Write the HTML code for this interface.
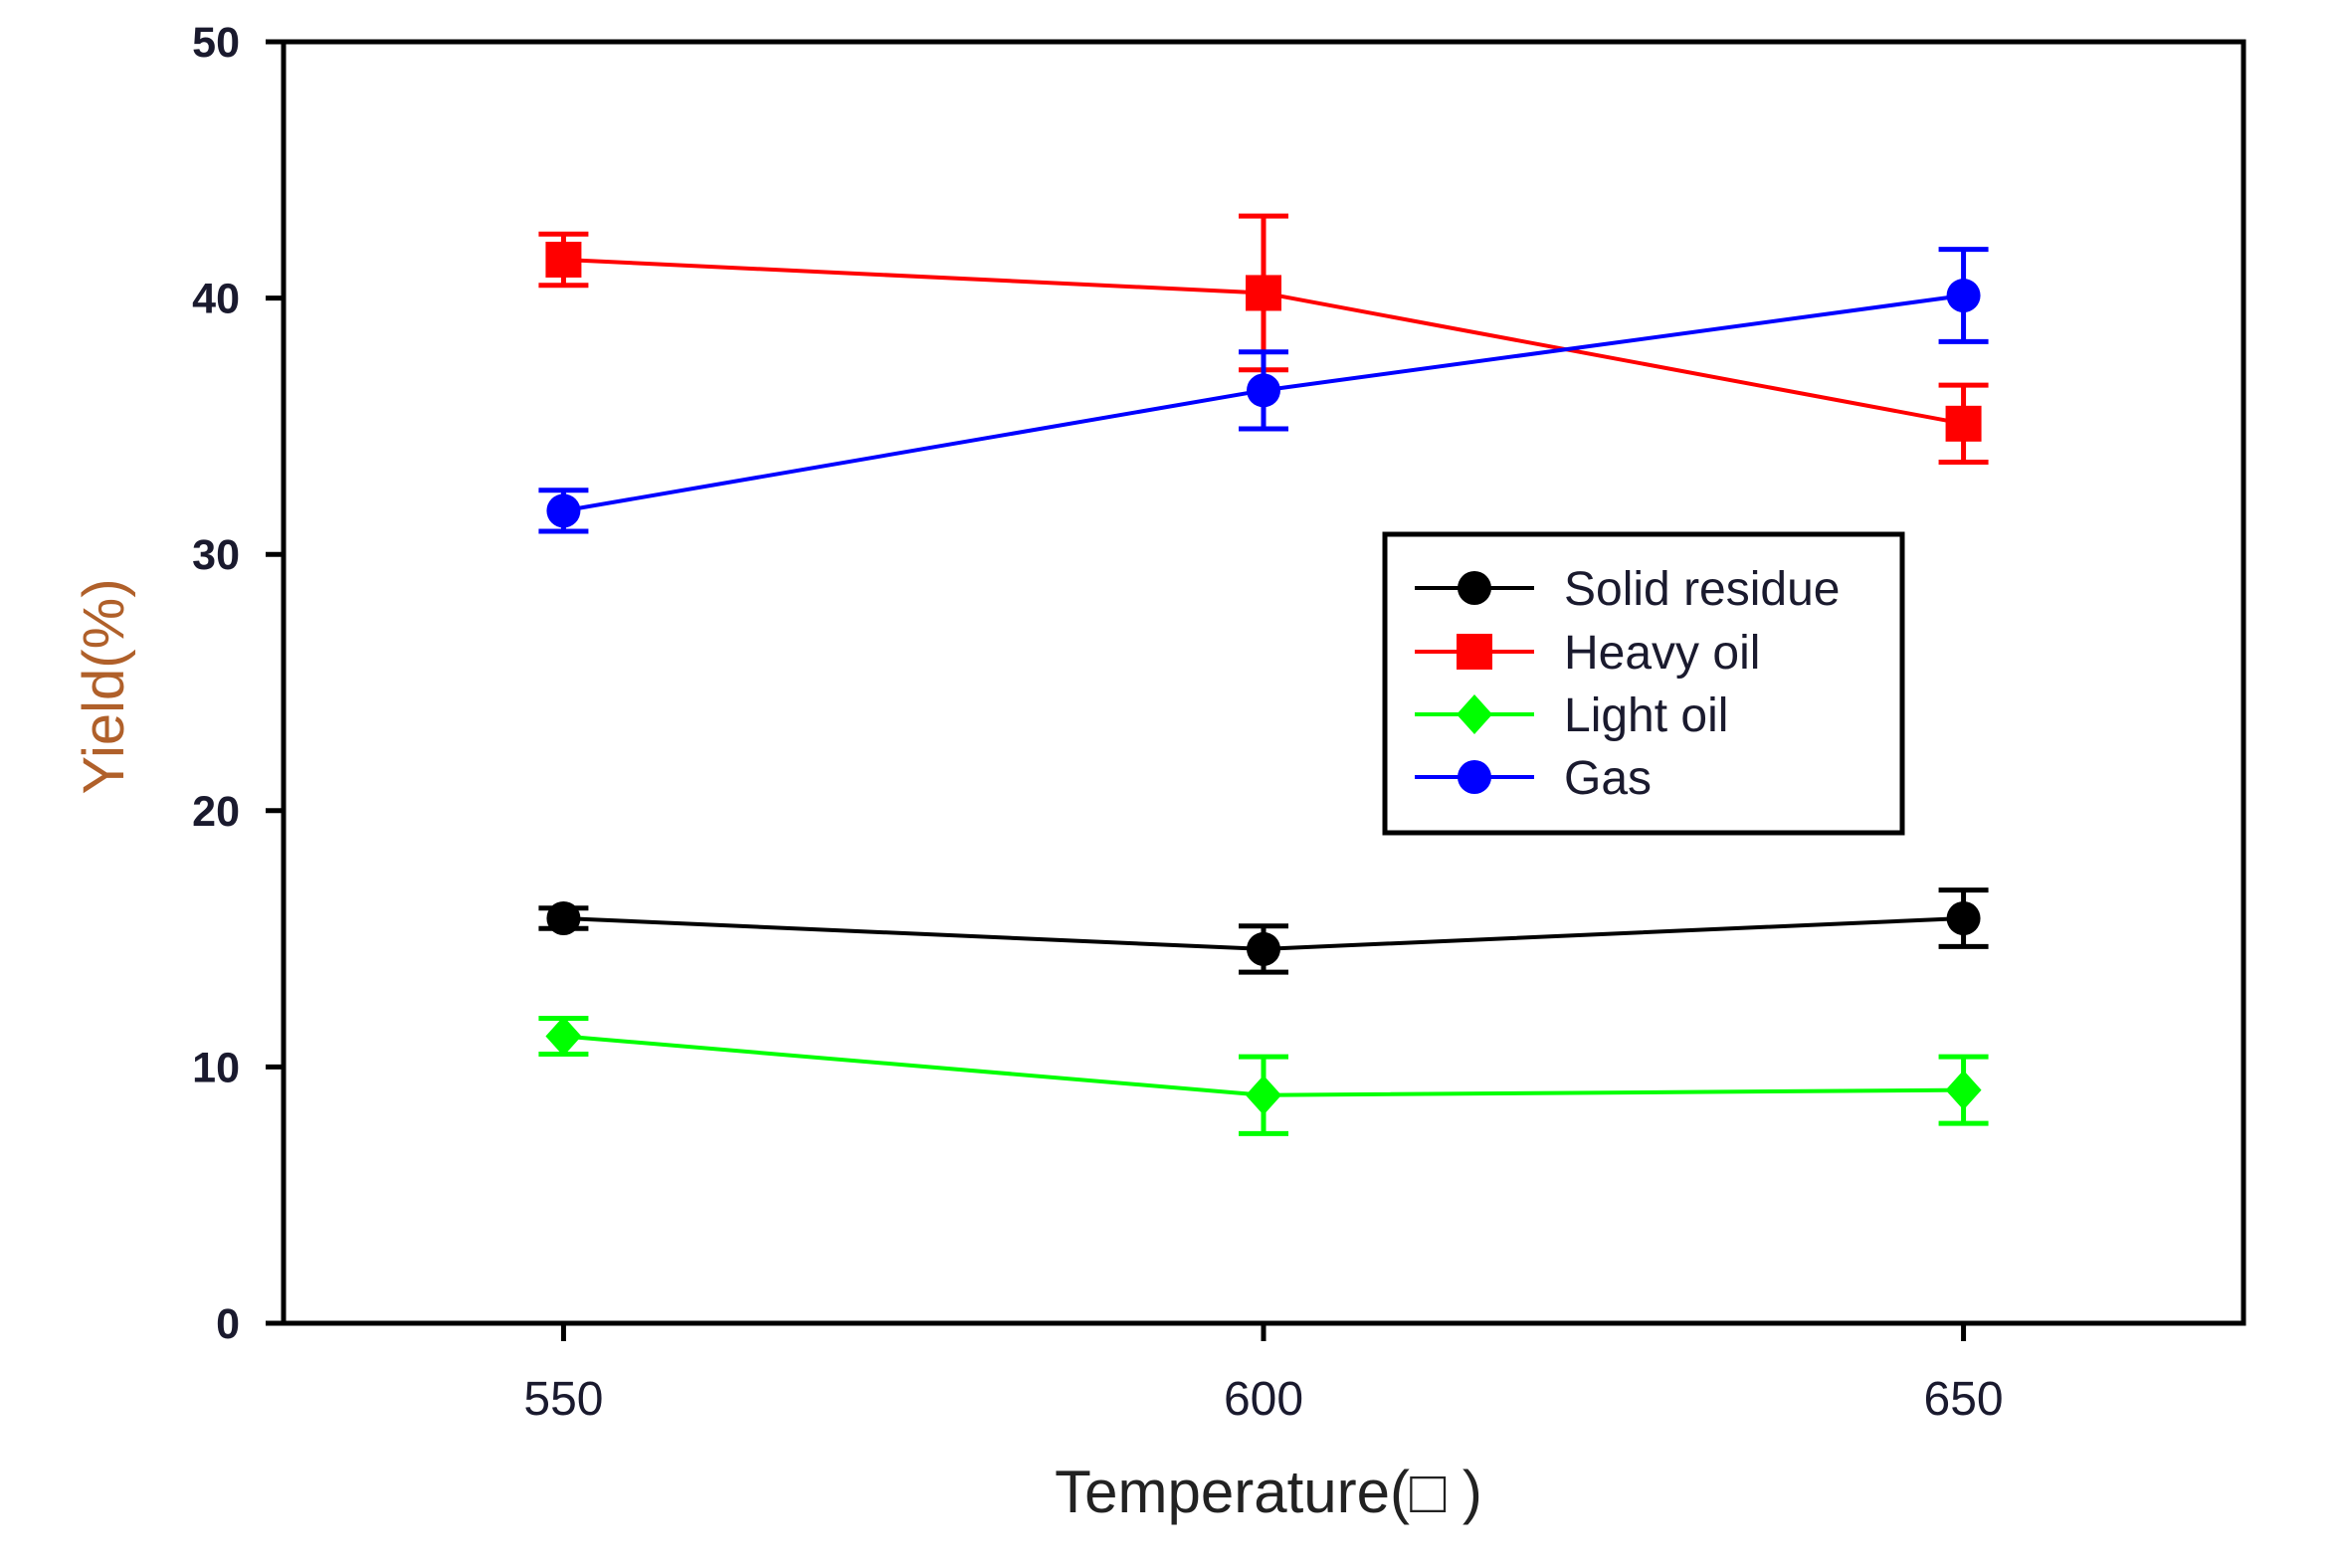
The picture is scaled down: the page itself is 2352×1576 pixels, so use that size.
<!DOCTYPE html>
<html><head><meta charset="utf-8"><style>
html,body{margin:0;padding:0;background:#fff;}
svg{display:block;font-family:"Liberation Sans",Arial,sans-serif;}
</style></head><body>
<svg id="chart" width="2352" height="1576" viewBox="0 0 2352 1576" xmlns="http://www.w3.org/2000/svg">
<rect x="0" y="0" width="2352" height="1576" fill="#fff"/>
<g id="plot"></g>
<rect x="285" y="42" width="1970" height="1288" fill="none" stroke="#000" stroke-width="5"/>
<text transform="translate(124,690) rotate(-90)" text-anchor="middle" font-size="58" fill="#b0602a">Yield(%)</text>
<text x="1275" y="1520" text-anchor="middle" font-size="60" fill="#222">Temperature(□ )</text>
<g>
<rect x="1392" y="537" width="520" height="300" fill="#fff" stroke="#000" stroke-width="5"/>
<g id="legend-entries"></g>
</g>
</svg>
<script>
const categories = [550, 600, 650];
const seriesNames = ["Solid residue", "Heavy oil", "Light oil", "Gas"];
const solidValues = [15.8, 14.6, 15.8];
const solidErrors = [0.4, 0.9, 1.1];
const heavyValues = [41.5, 40.2, 35.1];
const heavyErrors = [1.0, 3.0, 1.5];
const lightValues = [11.2, 8.9, 9.1];
const lightErrors = [0.7, 1.5, 1.3];
const gasValues = [31.7, 36.4, 40.1];
const gasErrors = [0.8, 1.5, 1.8];
const yTicks = [0, 10, 20, 30, 40, 50];
const xTicks = [550, 600, 650];

const NS = "http://www.w3.org/2000/svg";
const L = 285, R = 2255, T = 42, B = 1330;
function xs(v){ return L + (v - 530) / 140 * (R - L); }
function ys(v){ return B - v / 50 * (B - T); }
function mk(tag, attrs, parent){ const e = document.createElementNS(NS, tag); for (const k in attrs) e.setAttribute(k, attrs[k]); parent.appendChild(e); return e; }
const plot = document.getElementById('plot');

yTicks.forEach(t => {
  const tk = mk('line', {x1: L-18, x2: L, y1: ys(t), y2: ys(t), stroke: '#000', 'stroke-width': 5}, plot);
  
  
  const lb = mk('text', {x: L-44, y: ys(t)+15, 'text-anchor': 'end', 'font-size': 43, 'font-weight': 'bold', fill: '#1a1a2e'}, plot);
  lb.textContent = t;
  
  
});
xTicks.forEach(t => {
  const tk = mk('line', {x1: xs(t), x2: xs(t), y1: B, y2: B+18, stroke: '#000', 'stroke-width': 5}, plot);
  
  
  const lb = mk('text', {x: xs(t), y: B+92, 'text-anchor': 'middle', 'font-size': 48, fill: '#1a1a2e'}, plot);
  lb.textContent = t;
  
  
});

const series = [
  {name: 'solid', vals: solidValues, errs: solidErrors, color: '#000', marker: 'circle'},
  {name: 'heavy', vals: heavyValues, errs: heavyErrors, color: '#f00', marker: 'square'},
  {name: 'light', vals: lightValues, errs: lightErrors, color: '#00ff00', marker: 'diamond'},
  {name: 'gas', vals: gasValues, errs: gasErrors, color: '#00f', marker: 'circle'}
];
function marker(type, cx, cy, color, g){
  let m;
  if (type === 'square') m = mk('rect', {x: cx-18, y: cy-18, width: 36, height: 36, fill: color}, g);
  else if (type === 'diamond') m = mk('polygon', {points: `${cx},${cy-20} ${cx+18},${cy} ${cx},${cy+20} ${cx-18},${cy}`, fill: color}, g);
  else m = mk('circle', {cx: cx, cy: cy, r: 17, fill: color}, g);
  return m;
}
series.forEach(s => {
  const g = mk('g', {}, plot);
  
  
  const pts = categories.map((c, i) => xs(c) + ',' + ys(s.vals[i])).join(' ');
  const ln = mk('polyline', {points: pts, fill: 'none', stroke: s.color, 'stroke-width': 4}, g);
  
  
  categories.forEach((c, i) => {
    const x = xs(c), y1 = ys(s.vals[i] + s.errs[i]), y2 = ys(s.vals[i] - s.errs[i]);
    const eb = mk('path', {d: `M${x-25},${y1}H${x+25}M${x},${y1}V${y2}M${x-25},${y2}H${x+25}`, stroke: s.color, 'stroke-width': 5, fill: 'none'}, g);
    
    
    const m = marker(s.marker, x, ys(s.vals[i]), s.color, g);
    
    
  });
});

const le = document.getElementById('legend-entries');
const legY = [591, 655, 718, 781];
series.forEach((s, i) => {
  const g = mk('g', {}, le);
  
  
  mk('line', {x1: 1422, x2: 1542, y1: legY[i], y2: legY[i], stroke: s.color, 'stroke-width': 4}, g);
  marker(s.marker, 1482, legY[i], s.color, g);
  const t = mk('text', {x: 1572, y: legY[i]+17, 'font-size': 48, fill: '#1a1a2e'}, g);
  t.textContent = seriesNames[i];
});
</script>
</body></html>
